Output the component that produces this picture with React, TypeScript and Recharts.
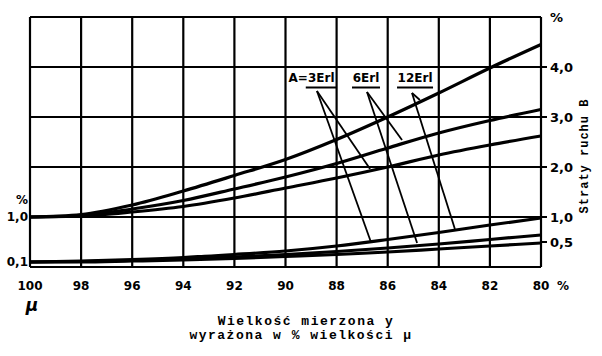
import React from 'react';
import { LineChart, Line, XAxis, YAxis, ReferenceLine, ReferenceDot } from 'recharts';

// Wielkość mierzona (μ, %) — categories
const mu = [100, 98, 96, 94, 92, 90, 88, 86, 84, 82, 80];

// Upper family (starting at 1,0 %)
const upper12Erl = [1.0, 1.05, 1.24, 1.52, 1.83, 2.15, 2.55, 3.0, 3.48, 3.98, 4.45];
const upper6Erl = [1.0, 1.03, 1.16, 1.33, 1.56, 1.8, 2.07, 2.38, 2.68, 2.93, 3.15];
const upper3Erl = [1.0, 1.02, 1.1, 1.21, 1.38, 1.58, 1.78, 2.0, 2.24, 2.44, 2.62];

// Lower family (starting at 0,1 %)
const lower12Erl = [0.1, 0.12, 0.15, 0.19, 0.25, 0.32, 0.42, 0.55, 0.69, 0.84, 0.98];
const lower6Erl = [0.1, 0.11, 0.13, 0.16, 0.2, 0.25, 0.31, 0.38, 0.46, 0.55, 0.64];
const lower3Erl = [0.1, 0.1, 0.12, 0.14, 0.17, 0.21, 0.25, 0.3, 0.36, 0.42, 0.48];

const xTicks = [100, 98, 96, 94, 92, 90, 88, 86, 84, 82, 80];
const gridRows = [0, 1, 2, 3, 4, 5];
const leftTicks = [0.1, 1];
const rightTicks = [0.5, 1, 2, 3, 4, 5];

// Annotation labels and their pointer lines (data coordinates)
const erlLabels = [
  { text: '3Erl', x: 88.6, y: 3.79, w: 31, prefix: 'A=' },
  { text: '6Erl', x: 86.85, y: 3.79, w: 28, prefix: '' },
  { text: '12Erl', x: 84.93, y: 3.79, w: 36, prefix: '' },
];
const pointerStarts = [
  [88.77, 3.52], [88.77, 3.52],
  [86.81, 3.5], [86.81, 3.5],
  [85.05, 3.48], [85.05, 3.48],
];
const pointerEnds = [
  [86.69, 1.96], [86.65, 0.49],
  [85.44, 2.54], [84.85, 0.48],
  [84.74, 3.34], [83.37, 0.76],
];

const data = mu.map((m, i) => ({
  mu: m,
  u12: upper12Erl[i],
  u6: upper6Erl[i],
  u3: upper3Erl[i],
  l12: lower12Erl[i],
  l6: lower6Erl[i],
  l3: lower3Erl[i],
}));

const fmt = (v: number) => v.toFixed(1).replace('.', ',');
const tickFont = '"DejaVu Sans", sans-serif';

const XTick = (props: any) => {
  const { x, y, payload } = props;
  const v = payload.value;
  return (
    <g>
      <text x={x} y={y} dy="0.71em" textAnchor="middle" fontFamily={tickFont} fontWeight="bold" fontSize={12} fill="#000">
        {v}
      </text>
      {v === 80 && (
        <text x={x + 22} y={y} dy="0.71em" textAnchor="middle" fontFamily={tickFont} fontWeight="bold" fontSize={12} fill="#000">
          %
        </text>
      )}
      {v === 100 && (
        <text x={x + 2} y={y + 30} textAnchor="middle" fontFamily={tickFont} fontStyle="italic" fontWeight="bold" fontSize={17} fill="#000">
          μ
        </text>
      )}
    </g>
  );
};

const LeftTick = (props: any) => {
  const { x, y, payload } = props;
  const v = payload.value;
  return (
    <g>
      <text x={x} y={y} dy="0.35em" textAnchor="end" fontFamily={tickFont} fontWeight="bold" fontSize={12} fill="#000">
        {fmt(v)}
      </text>
      {v === 1 && (
        <text x={x - 6} y={y - 17} dy="0.35em" textAnchor="middle" fontFamily={tickFont} fontWeight="bold" fontSize={12} fill="#000">
          %
        </text>
      )}
    </g>
  );
};

const RightTick = (props: any) => {
  const { x, y, payload } = props;
  const v = payload.value;
  return (
    <g>
      {v !== 5 && <line x1={x - 10} x2={x - 3} y1={y} y2={y} stroke="#000" strokeWidth={2} />}
      <text x={x} y={y} dy="0.35em" textAnchor="start" fontFamily={tickFont} fontWeight="bold" fontSize={13} fill="#000">
        {v === 5 ? '%' : fmt(v)}
      </text>
    </g>
  );
};

const makeLabel = (item: { text: string; w: number; prefix: string }) => (props: any) => {
  const vb = props.viewBox || {};
  const cx = vb.x + (vb.width || 0) / 2;
  const cy = vb.y + (vb.height || 0) / 2;
  return (
    <g>
      {item.prefix && (
        <text x={cx - item.w / 2 + 2} y={cy} dy="0.35em" textAnchor="end" fontFamily={tickFont} fontWeight="bold" fontSize={12} fill="#000">
          {item.prefix}
        </text>
      )}
      <text x={cx} y={cy} dy="0.35em" textAnchor="middle" fontFamily={tickFont} fontWeight="bold" fontSize={12} fill="#000">
        {item.text}
      </text>
      <line x1={cx - item.w / 2} x2={cx + item.w / 2} y1={cy + 10} y2={cy + 10} stroke="#000" strokeWidth={2} />
    </g>
  );
};

export default function App() {
  return (
    <div style={{ position: 'absolute', left: 0, top: 0, width: 602, height: 356, background: '#fff' }}>
      <LineChart width={602} height={356} data={data} margin={{ top: 17, right: 0, bottom: 59, left: 0 }}>
        <XAxis
          dataKey="mu"
          type="number"
          domain={[80, 100]}
          reversed
          ticks={xTicks}
          interval={0}
          axisLine={false}
          tickLine={false}
          tickSize={0}
          tickMargin={14}
          height={30}
          tick={<XTick />}
        />
        <YAxis
          yAxisId="left"
          orientation="left"
          type="number"
          domain={[0, 5]}
          ticks={leftTicks}
          interval={0}
          width={30}
          axisLine={false}
          tickLine={false}
          tickSize={0}
          tickMargin={2}
          tick={<LeftTick />}
        />
        <YAxis
          yAxisId="right"
          orientation="right"
          type="number"
          domain={[0, 5]}
          ticks={rightTicks}
          interval={0}
          width={61}
          axisLine={false}
          tickLine={false}
          tickSize={0}
          tickMargin={9}
          tick={<RightTick />}
        />
        {gridRows.map((r) => (
          <ReferenceLine key={'h' + r} yAxisId="left" y={r} stroke="#000" strokeWidth={2.2} ifOverflow="visible" />
        ))}
        {xTicks.map((t) => (
          <ReferenceLine key={'v' + t} yAxisId="left" x={t} stroke="#000" strokeWidth={2.2} ifOverflow="visible" />
        ))}
        <Line yAxisId="left" dataKey="u12" type="monotone" stroke="#000" strokeWidth={3.2} dot={false} isAnimationActive={false} />
        <Line yAxisId="left" dataKey="u6" type="monotone" stroke="#000" strokeWidth={3.2} dot={false} isAnimationActive={false} />
        <Line yAxisId="left" dataKey="u3" type="monotone" stroke="#000" strokeWidth={3.2} dot={false} isAnimationActive={false} />
        <Line yAxisId="right" dataKey="l12" type="monotone" stroke="#000" strokeWidth={3.2} dot={false} isAnimationActive={false} />
        <Line yAxisId="right" dataKey="l6" type="monotone" stroke="#000" strokeWidth={3.2} dot={false} isAnimationActive={false} />
        <Line yAxisId="right" dataKey="l3" type="monotone" stroke="#000" strokeWidth={3.2} dot={false} isAnimationActive={false} />
        {pointerStarts.map((s, i) => (
          <ReferenceLine
            key={'p' + i}
            yAxisId="left"
            segment={[{ x: s[0], y: s[1] }, { x: pointerEnds[i][0], y: pointerEnds[i][1] }]}
            stroke="#000"
            strokeWidth={1.8}
            ifOverflow="visible"
          />
        ))}
        {erlLabels.map((item, i) => (
          <ReferenceDot
            key={'l' + i}
            yAxisId="left"
            x={item.x}
            y={item.y}
            r={0}
            fill="none"
            stroke="none"
            ifOverflow="visible"
            label={makeLabel(item)}
          />
        ))}
      </LineChart>
      <div
        style={{
          position: 'absolute',
          left: 585,
          top: 156,
          transform: 'translate(-50%, -50%) rotate(-90deg)',
          whiteSpace: 'nowrap',
          fontFamily: '"Liberation Mono", monospace',
          fontWeight: 'bold',
          fontSize: 12,
          letterSpacing: 1,
          color: '#000',
        }}
      >
        Straty ruchu B
      </div>
      <div
        style={{
          position: 'absolute',
          left: 0,
          width: 602,
          top: 315,
          textAlign: 'center',
          fontFamily: '"Liberation Mono", monospace',
          fontWeight: 'bold',
          fontSize: 13,
          lineHeight: '14px',
          letterSpacing: 1.5,
          color: '#000',
        }}
      >
        <div style={{ marginLeft: 10 }}>Wielkość mierzona y</div>
        <div>wyrażona w % wielkości μ</div>
      </div>
    </div>
  );
}
